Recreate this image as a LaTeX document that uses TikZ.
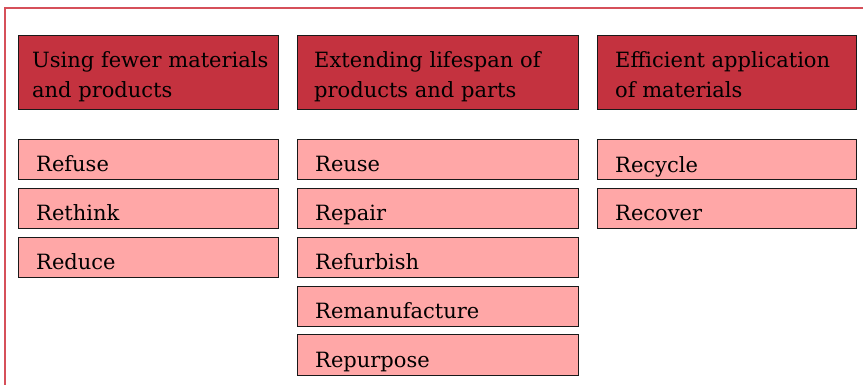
\documentclass[tikz,border=0pt]{standalone}
\usepackage{fontspec}
\usetikzlibrary{fit}
\setmainfont{DejaVu Serif}
\definecolor{headred}{RGB}{196,50,63}
\definecolor{itempink}{RGB}{255,167,167}
\definecolor{framered}{RGB}{214,80,90}
\tikzset{
  headbox/.style={draw=black!90, line width=1pt, fill=headred, rectangle, inner sep=0pt},
  itembox/.style={draw=black!90, line width=1pt, fill=itempink, rectangle, inner sep=0pt},
  label/.style={anchor=base west, inner sep=0pt, font=\fontsize{21}{26}\selectfont, text=black},
}
\begin{document}
\begin{tikzpicture}[x=1pt, y=-1pt]
\useasboundingbox (0,0) rectangle (863,384);
% outer frame, running off the right and bottom edges
\begin{scope}
\clip (0,0) rectangle (863,384);
\draw[framered, line width=1.2pt] (5,8) rectangle (880,400);
\end{scope}

% column headers
\node[headbox, fit={(18,35) (278,109)}] (h1) {};
\node[headbox, fit={(297,35) (578,109)}] (h2) {};
\node[headbox, fit={(597,35) (856,109)}] (h3) {};
\node[label] (h1a) at (32,67) {Using fewer materials};
\node[label] (h1b) at (32,97) {and products};
\node[label] (h2a) at (314,67) {Extending lifespan of};
\node[label] (h2b) at (314,97) {products and parts};
\node[label] (h3a) at (615,67) {Efficient application};
\node[label] (h3b) at (615,97) {of materials};

% column 1 items
\node[itembox, fit={(18,139) (278,179)}] (c1r1) {};
\node[itembox, fit={(18,188) (278,228)}] (c1r2) {};
\node[itembox, fit={(18,237) (278,277)}] (c1r3) {};
\node[label] (t11) at (36,171) {Refuse};
\node[label] (t12) at (36,220) {Rethink};
\node[label] (t13) at (36,269) {Reduce};

% column 2 items
\node[itembox, fit={(297,139) (578,179)}] (c2r1) {};
\node[itembox, fit={(297,188) (578,228)}] (c2r2) {};
\node[itembox, fit={(297,237) (578,277)}] (c2r3) {};
\node[itembox, fit={(297,286) (578,326)}] (c2r4) {};
\node[itembox, fit={(297,334) (578,375)}] (c2r5) {};
\node[label] (t21) at (315,171) {Reuse};
\node[label] (t22) at (315,220) {Repair};
\node[label] (t23) at (315,269) {Refurbish};
\node[label] (t24) at (315,318) {Remanufacture};
\node[label] (t25) at (315,367) {Repurpose};

% column 3 items
\node[itembox, fit={(597,139) (856,179)}] (c3r1) {};
\node[itembox, fit={(597,188) (856,228)}] (c3r2) {};
\node[label] (t31) at (615,172) {Recycle};
\node[label] (t32) at (615,220) {Recover};
\end{tikzpicture}
\end{document}
